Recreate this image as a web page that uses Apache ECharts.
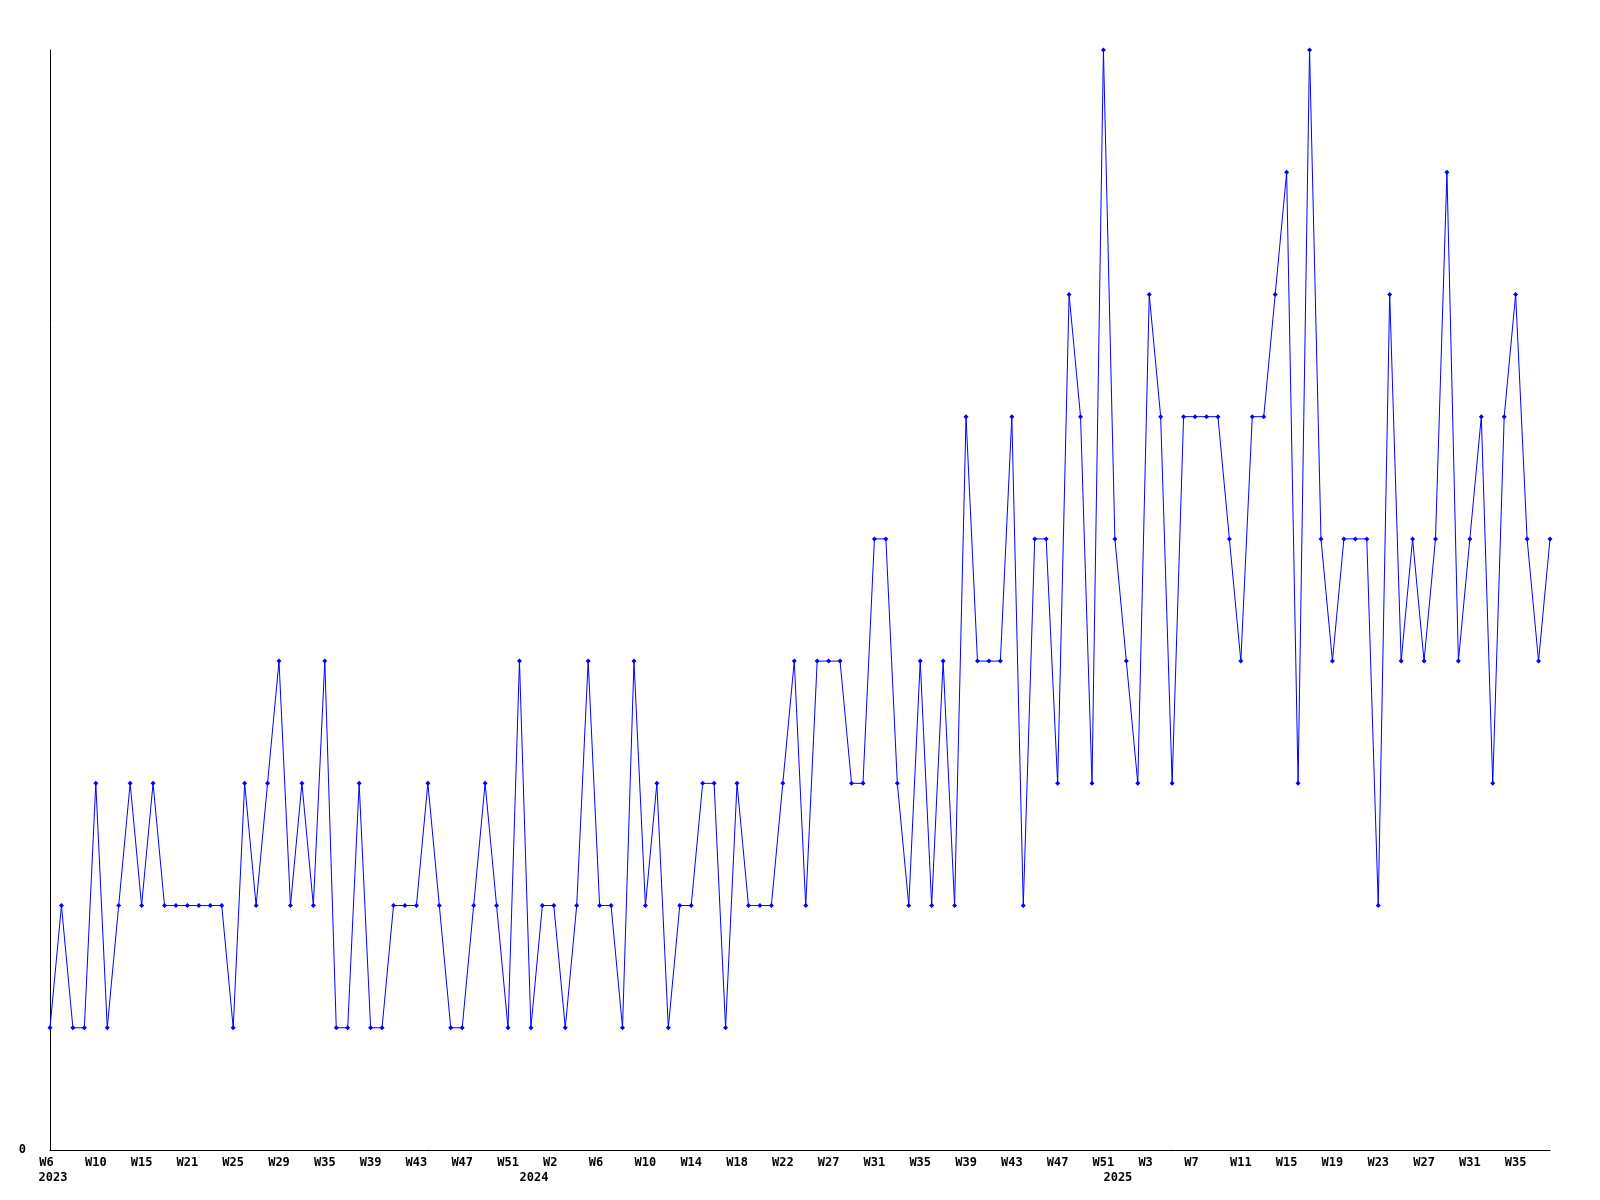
<!DOCTYPE html>
<html>
<head>
<meta charset="utf-8">
<script src="https://cdn.jsdelivr.net/npm/echarts@6/dist/echarts.min.js"></script>
<style>
html,body{margin:0;padding:0;background:#fff;}
#chart{width:1600px;height:1200px;}
</style>
</head>
<body>
<div id="chart"></div>
<script>
// Series values (one per weekly point)
const values = [
  1,2,1,1,3,1,2,3,2,3,
  2,2,2,2,2,2,1,3,2,3,
  4,2,3,2,4,1,1,3,1,1,
  2,2,2,3,2,1,1,2,3,2,
  1,4,1,2,2,1,2,4,2,2,
  1,4,2,3,1,2,2,3,3,1,
  3,2,2,2,3,4,2,4,4,4,
  3,3,5,5,3,2,4,2,4,2,
  6,4,4,4,6,2,5,5,3,7,
  6,3,9,5,4,3,7,6,3,6,
  6,6,6,5,4,6,6,7,8,3,
  9,5,4,5,5,5,2,7,4,5,
  4,5,8,4,5,6,3,6,7,5,
  4,5
];
// Point categories (index of each point)
const points = values.map((_, i) => String(i));
// Week tick labels (shown every 4th point)
const weekTicks = [
  'W6','W10','W15','W21','W25','W29','W35','W39','W43','W47','W51',
  'W2','W6','W10','W14','W18','W22','W27','W31','W35','W39','W43','W47','W51',
  'W3','W7','W11','W15','W19','W23','W27','W31','W35'
];
// Year labels and the point at which each is shown
const years = ['2023', '2024', '2025'];
const yearPoint = [0, 42, 93];
// Y tick labels
const yTicks = ['0'];

const FONT = '"DejaVu Sans Mono", "Liberation Mono", monospace';
const TICK_STEP = 4;

const chart = echarts.init(document.getElementById('chart'), null, {renderer: 'canvas'});
chart.setOption({
  backgroundColor: '#ffffff',
  animation: false,
  grid: {left: 50, right: 50, top: 50, bottom: 50, containLabel: false},
  xAxis: [
    {
      type: 'category',
      data: points,
      boundaryGap: false,
      position: 'bottom',
      axisLine: {show: true, lineStyle: {color: '#000', width: 1}},
      axisTick: {show: false},
      splitLine: {show: false},
      axisLabel: {
        interval: (i) => i % TICK_STEP === 0,
        formatter: (v, i) => {
          const t = weekTicks[Math.floor(Number(v) / TICK_STEP)] || '';
          return t.padEnd(3, ' ');
        },
        fontFamily: FONT, fontWeight: 'bold', fontSize: 12, color: '#000',
        margin: 7, hideOverlap: false
      }
    },
    {
      type: 'category',
      data: points,
      boundaryGap: false,
      position: 'bottom',
      offset: 0,
      axisLine: {show: false},
      axisTick: {show: false},
      splitLine: {show: false},
      axisLabel: {
        interval: (i) => yearPoint.indexOf(i) >= 0,
        formatter: (v) => {
          const k = yearPoint.indexOf(Number(v));
          return k >= 0 ? years[k] : '';
        },
        fontFamily: FONT, fontWeight: 'bold', fontSize: 12, color: '#000',
        padding: [0, 0, 0, 6],
        margin: 22, hideOverlap: false
      }
    }
  ],
  yAxis: {
    type: 'value',
    min: 0, max: 9, interval: 9,
    axisLine: {show: true, lineStyle: {color: '#000', width: 1}},
    axisTick: {show: false},
    splitLine: {show: false},
    axisLabel: {
      formatter: (v) => (v === 0 ? yTicks[0] : ''),
      fontFamily: FONT, fontWeight: 'bold', fontSize: 12, color: '#000',
      margin: 24
    }
  },
  series: [{
    type: 'line',
    data: values,
    xAxisIndex: 0,
    yAxisIndex: 0,
    symbol: 'diamond',
    symbolSize: 5,
    showAllSymbol: true,
    lineStyle: {color: '#0000ff', width: 1},
    itemStyle: {color: '#0000ff', borderWidth: 0},
    emphasis: {disabled: true}
  }]
});
</script>
</body>
</html>
